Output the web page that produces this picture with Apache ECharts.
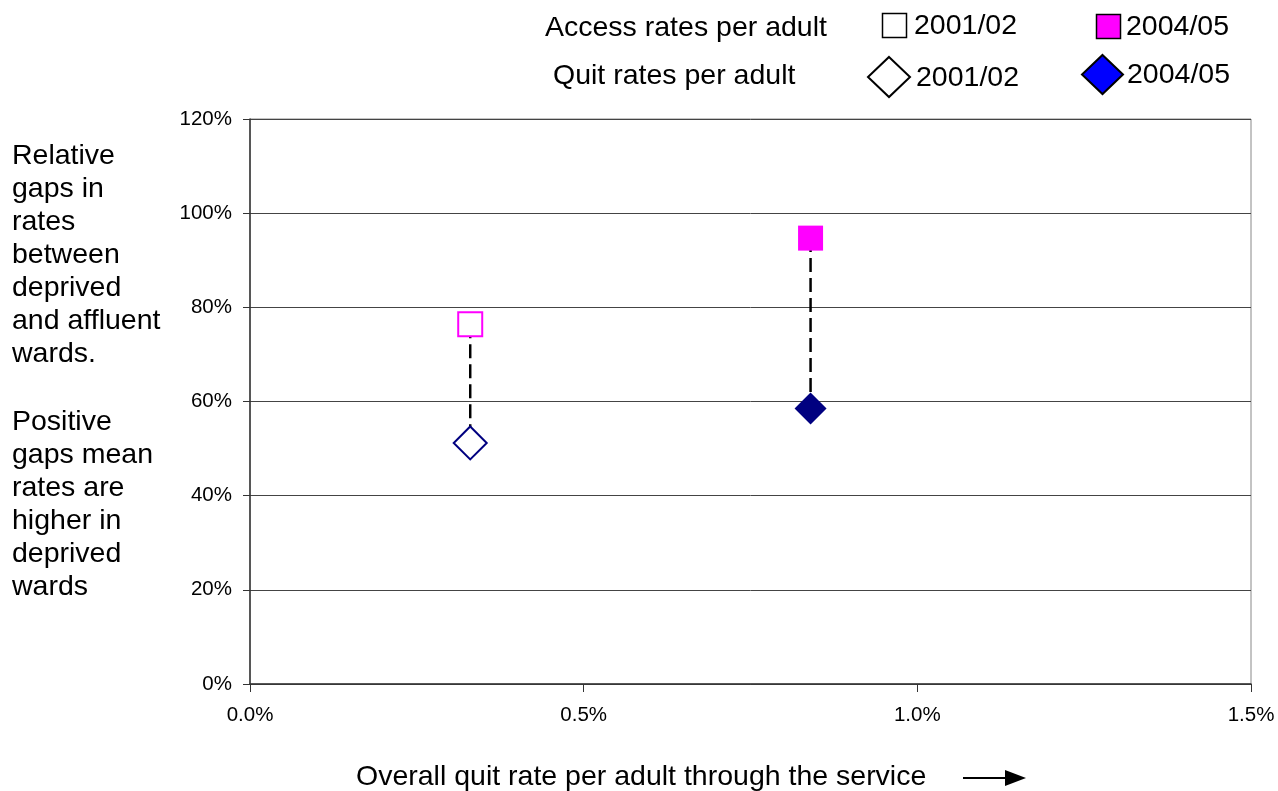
<!DOCTYPE html>
<html>
<head>
<meta charset="utf-8">
<script src="https://cdn.jsdelivr.net/npm/echarts@6/dist/echarts.min.js"></script>
<style>
html,body{margin:0;padding:0;background:#fff;}
#chart{width:1278px;height:791px;}
</style>
</head>
<body>
<div id="chart"></div>
<script>
// Data (x: overall quit rate per adult, %; y: relative gap, %)
const years = ['2001/02', '2004/05'];
const overallQuitRate = [0.33, 0.84];
const accessGap = [76.4, 94.7];
const quitGap = [51.2, 58.5];
const xTicks = [0, 0.5, 1.0, 1.5];
const yTicks = [0, 20, 40, 60, 80, 100, 120];

const FONT = 'Liberation Sans, Arial, sans-serif';
const BIG = 28.5;

const chart = echarts.init(document.getElementById('chart'), null, {renderer: 'canvas'});

const series = [];
// dashed connectors
years.forEach((y, i) => {
  series.push({
    type: 'line',
    name: 'link ' + y,
    data: [[overallQuitRate[i], accessGap[i]], [overallQuitRate[i], quitGap[i]]],
    symbol: 'none',
    lineStyle: {color: '#000', width: 2.5, type: [14, 6]},
    z: 2,
    silent: true
  });
});
// markers
series.push({
  type: 'scatter', name: 'Access 2001/02',
  data: [[overallQuitRate[0], accessGap[0]]],
  symbol: 'rect', symbolSize: 24,
  itemStyle: {color: '#fff', borderColor: '#ff00ff', borderWidth: 2, opacity: 1},
  z: 5
});
series.push({
  type: 'scatter', name: 'Access 2004/05',
  data: [[overallQuitRate[1], accessGap[1]]],
  symbol: 'rect', symbolSize: 25,
  itemStyle: {color: '#ff00ff', borderColor: '#ff00ff', borderWidth: 0, opacity: 1},
  z: 5
});
series.push({
  type: 'scatter', name: 'Quit 2001/02',
  data: [[overallQuitRate[0], quitGap[0]]],
  symbol: 'diamond', symbolSize: 33,
  itemStyle: {color: '#fff', borderColor: '#000080', borderWidth: 2, opacity: 1},
  z: 5
});
series.push({
  type: 'scatter', name: 'Quit 2004/05',
  data: [[overallQuitRate[1], quitGap[1]]],
  symbol: 'diamond', symbolSize: 32,
  itemStyle: {color: '#000080', borderColor: '#000080', borderWidth: 0, opacity: 1},
  z: 5
});

const leftText1 = ['Relative', 'gaps in', 'rates', 'between', 'deprived', 'and affluent', 'wards.'];
const leftText2 = ['Positive', 'gaps mean', 'rates are', 'higher in', 'deprived', 'wards'];

function txt(x, y, text, opts) {
  return {
    type: 'text', x: x, y: y,
    style: Object.assign({text: text, font: BIG + 'px ' + FONT, fill: '#000',
      textAlign: 'left', textVerticalAlign: 'middle'}, (opts || {}))
  };
}

const graphic = [
  txt(545, 28, 'Access rates per adult'),
  txt(553, 76, 'Quit rates per adult'),
  {type: 'rect', shape: {x: 882.5, y: 13.5, width: 24, height: 24},
   style: {fill: '#fff', stroke: '#000', lineWidth: 1.5}},
  txt(914, 26.5, years[0]),
  {type: 'rect', shape: {x: 1096.5, y: 14.5, width: 24, height: 24},
   style: {fill: '#ff00ff', stroke: '#000', lineWidth: 1.5}},
  txt(1126, 27, years[1]),
  {type: 'polygon', shape: {points: [[889, 57], [910, 77], [889, 97], [868, 77]]},
   style: {fill: '#fff', stroke: '#000', lineWidth: 2}},
  txt(916, 78, years[0]),
  {type: 'polygon', shape: {points: [[1102.5, 55], [1123, 74.5], [1102.5, 94], [1082, 74.5]]},
   style: {fill: '#0000ff', stroke: '#000', lineWidth: 2}},
  txt(1127, 75, years[1]),
  {type: 'text', x: 12, y: 140,
   style: {text: leftText1.join('\n'), font: BIG + 'px ' + FONT, fill: '#000', lineHeight: 33,
     textAlign: 'left', textVerticalAlign: 'top'}},
  {type: 'text', x: 12, y: 405.5,
   style: {text: leftText2.join('\n'), font: BIG + 'px ' + FONT, fill: '#000', lineHeight: 33,
     textAlign: 'left', textVerticalAlign: 'top'}},
  txt(356, 777, 'Overall quit rate per adult through the service'),
  {type: 'line', shape: {x1: 963, y1: 778, x2: 1008, y2: 778},
   style: {stroke: '#000', lineWidth: 2}},
  {type: 'polygon', shape: {points: [[1005, 770], [1026, 778], [1005, 786]]},
   style: {fill: '#000'}}
];

const option = {
  animation: false,
  backgroundColor: '#fff',
  textStyle: {fontFamily: FONT},
  grid: {left: 250, right: 27, top: 119, bottom: 107, show: true,
    borderColor: '#888', borderWidth: 1, backgroundColor: 'transparent'},
  xAxis: {
    type: 'value', min: xTicks[0], max: xTicks[xTicks.length - 1], interval: 0.5,
    axisLine: {show: true, onZero: false, lineStyle: {color: '#333', width: 1.5}},
    axisTick: {show: true, length: 8, lineStyle: {color: '#333'}},
    splitLine: {show: false},
    axisLabel: {color: '#000', fontSize: 20.5, fontFamily: FONT, margin: 21,
      formatter: v => v.toFixed(1) + '%'}
  },
  yAxis: {
    type: 'value', min: yTicks[0], max: yTicks[yTicks.length - 1], interval: 20,
    axisLine: {show: true, lineStyle: {color: '#333', width: 1.5}},
    axisTick: {show: true, length: 7, lineStyle: {color: '#333'}},
    splitLine: {show: true, lineStyle: {color: '#444', width: 1}},
    axisLabel: {color: '#000', fontSize: 20.5, fontFamily: FONT, margin: 18,
      formatter: v => v + '%'}
  },
  series: series,
  graphic: graphic
};
chart.setOption(option);
</script>
</body>
</html>
